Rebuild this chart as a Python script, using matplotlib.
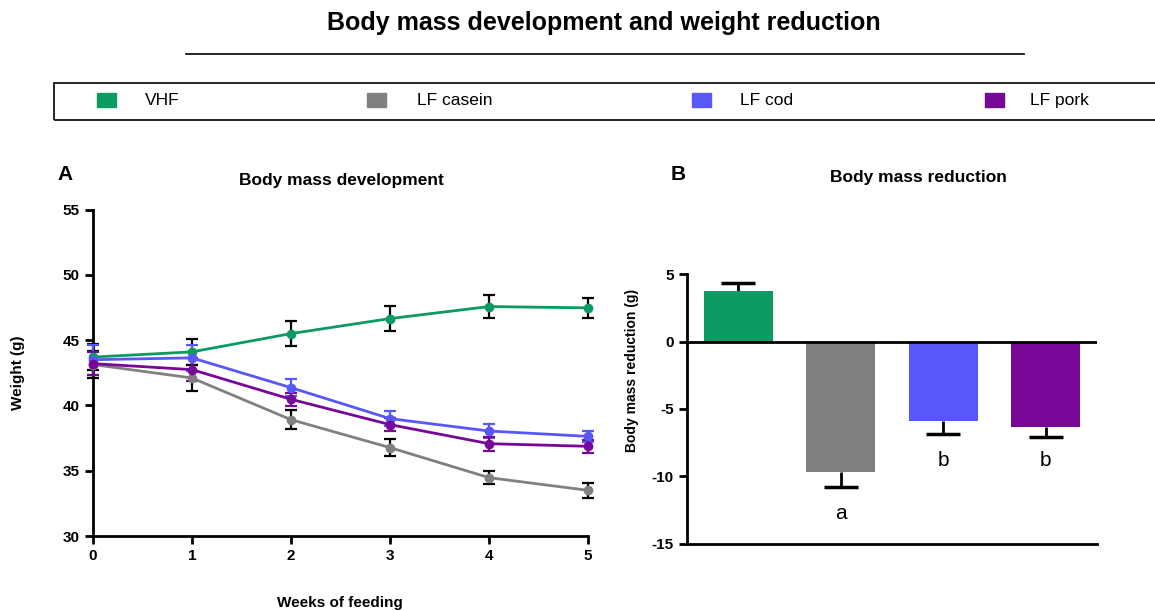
import numpy as np
import matplotlib.pyplot as plt
from matplotlib.patches import Rectangle
from matplotlib.lines import Line2D

plt.rcParams['font.family'] = ['Liberation Sans', 'DejaVu Sans']
plt.rcParams['axes.unicode_minus'] = False

groups = ["VHF", "LF casein", "LF cod", "LF pork"]
colors = ["#0b9a61", "#808080", "#5858fa", "#770897"]
err_colors = ["black", "black", "#5858fa", "#770897"]

weeks = [0, 1, 2, 3, 4, 5]
vhf_w = [43.7, 44.1, 45.5, 46.65, 47.57, 47.47]
vhf_e = [1.0, 1.0, 0.95, 0.93, 0.9, 0.75]
casein_w = [43.13, 42.1, 38.91, 36.77, 34.47, 33.5]
casein_e = [1.0, 1.0, 0.75, 0.65, 0.5, 0.55]
cod_w = [43.5, 43.64, 41.36, 38.99, 38.04, 37.63]
cod_e = [1.15, 1.0, 0.65, 0.6, 0.5, 0.4]
pork_w = [43.2, 42.74, 40.47, 38.53, 37.07, 36.87]
pork_e = [0.9, 0.9, 0.5, 0.5, 0.55, 0.5]

reduction = [3.76, -9.65, -5.87, -6.31]
reduction_e = [0.57, 1.17, 1.0, 0.8]
sig_letters = ["", "a", "b", "b"]
letter_y = [0, -12.75, -8.8, -8.8]

fig = plt.figure(figsize=(11.55, 6.11), dpi=100)

# main title + underline
fig.text(0.523, 0.962, "Body mass development and weight reduction",
         ha="center", va="center", fontsize=18, fontweight="bold")
fig.add_artist(Line2D([0.161, 0.8866], [0.9116, 0.9116], color="black", lw=1.2,
                      transform=fig.transFigure))

# legend box
fig.add_artist(Rectangle((0.0468, 0.8036), 0.96, 0.0605, fill=False, lw=1.2,
                         edgecolor="black", transform=fig.transFigure))
sq_x = [97, 367, 692, 985]
tx_x = [145, 417, 740, 1030]
for g, c, sx, tx in zip(groups, colors, sq_x, tx_x):
    fig.add_artist(Rectangle((sx / 1155, 0.8245), 19 / 1155, 0.0235, color=c,
                             transform=fig.transFigure))
    fig.text(tx / 1155, 0.835, g, ha="left", va="center", fontsize=12.5)

# panel A
ax1 = fig.add_axes([0.0805, 0.1227, 0.4286, 0.5344])
series = [(vhf_w, vhf_e), (casein_w, casein_e), (cod_w, cod_e), (pork_w, pork_e)]
for (w, e), c, ec in zip(series, colors, err_colors):
    ax1.errorbar(weeks, w, yerr=e, color=c, ecolor=ec, marker="o", markersize=6,
                 lw=2, elinewidth=1.6, capsize=4, capthick=1.6, clip_on=False, zorder=3)
ax1.set_xlim(0, 5)
ax1.set_ylim(30, 55)
ax1.set_xticks(weeks)
ax1.set_yticks([30, 35, 40, 45, 50, 55])
for s in ["top", "right"]:
    ax1.spines[s].set_visible(False)
for s in ["left", "bottom"]:
    ax1.spines[s].set_linewidth(2)
ax1.tick_params(width=2, length=6, labelsize=11)
for lab in ax1.get_xticklabels() + ax1.get_yticklabels():
    lab.set_fontweight("bold")
fig.text(0.296, 0.704, "Body mass development", ha="center", va="center",
         fontsize=12.5, fontweight="bold")
fig.text(0.056, 0.714, "A", ha="center", va="center", fontsize=15, fontweight="bold")
fig.text(0.016, 0.39, "Weight (g)", rotation=90, ha="center", va="center",
         fontsize=11, fontweight="bold")
fig.text(0.294, 0.013, "Weeks of feeding", ha="center", va="center",
         fontsize=11, fontweight="bold")

# panel B
ax2 = fig.add_axes([0.5948, 0.1101, 0.355, 0.4411])
xpos = np.arange(len(groups))
ax2.bar(xpos, reduction, width=0.674, color=colors, zorder=2)
for x, v, e in zip(xpos, reduction, reduction_e):
    end = v + np.sign(v) * e
    ax2.vlines(x, v, end, color="black", lw=2, zorder=1)
    ax2.hlines(end, x - 0.165, x + 0.165, color="black", lw=2.5, zorder=1)
for x, l, ly in zip(xpos, sig_letters, letter_y):
    if l:
        ax2.text(x, ly, l, ha="center", va="center", fontsize=15)
ax2.axhline(0, color="black", lw=2, zorder=3)
ax2.set_xlim(-0.5, 3.5)
ax2.set_ylim(-15, 5)
ax2.set_yticks([-15, -10, -5, 0, 5])
ax2.set_xticks([])
for s in ["top", "right"]:
    ax2.spines[s].set_visible(False)
for s in ["left", "bottom"]:
    ax2.spines[s].set_linewidth(2)
ax2.tick_params(width=2, length=6, labelsize=11)
for lab in ax2.get_yticklabels():
    lab.set_fontweight("bold")
fig.text(0.795, 0.709, "Body mass reduction", ha="center", va="center",
         fontsize=12.5, fontweight="bold")
fig.text(0.587, 0.714, "B", ha="center", va="center", fontsize=15, fontweight="bold")
fig.text(0.547, 0.394, "Body mass reduction (g)", rotation=90, ha="center",
         va="center", fontsize=10, fontweight="bold")

fig.savefig("out.png", dpi=100)
